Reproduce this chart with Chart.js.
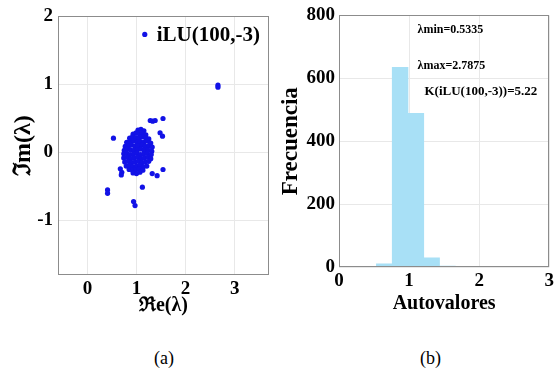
<!DOCTYPE html>
<html><head><meta charset="utf-8">
<script src="https://cdn.jsdelivr.net/npm/chart.js@4.4.1/dist/chart.umd.min.js"></script>
<style>
html,body{margin:0;padding:0;background:#fff;width:557px;height:372px;overflow:hidden;}
#ca{position:absolute;left:0;top:0;}
#cb{position:absolute;left:280px;top:0;}
.cap{position:absolute;top:347px;font:18px "Liberation Serif",serif;color:#000;line-height:22px;}
</style></head><body>
<canvas id="ca" width="280" height="320"></canvas>
<canvas id="cb" width="277" height="320"></canvas>
<div class="cap" style="left:154px">(a)</div>
<div class="cap" style="left:420px">(b)</div>
<script>
// ---------- Panel (a): eigenvalues in complex plane ----------
const legendLabel = 'iLU(100,-3)';
const reTicks = [0, 1, 2, 3];
const imTicks = [-1, 0, 1, 2];
const reRange = [-0.6, 3.7];
const imRange = [-1.8, 2];
// dense cluster of eigenvalues [Re, Im]
const clusterPoints = [
 [1.03,0.33],[1.09,0.34],[1.15,0.32],
 [0.93,0.27],[0.99,0.29],[1.05,0.28],[1.12,0.28],[1.19,0.26],
 [0.86,0.21],[0.92,0.23],[0.99,0.22],[1.05,0.21],[1.12,0.23],[1.19,0.21],[1.25,0.20],
 [0.80,0.15],[0.87,0.16],[0.94,0.17],[1.01,0.15],[1.08,0.16],[1.15,0.15],[1.22,0.17],[1.29,0.14],
 [0.77,0.09],[0.84,0.10],[0.90,0.11],[0.97,0.09],[1.04,0.10],[1.11,0.11],[1.18,0.09],[1.25,0.10],[1.32,0.08],
 [0.75,0.03],[0.81,0.05],[0.88,0.04],[0.95,0.03],[1.02,0.04],[1.09,0.05],[1.16,0.03],[1.23,0.04],[1.31,0.02],
 [0.74,-0.02],[0.80,-0.01],[0.87,-0.03],[0.94,-0.02],[1.01,-0.01],[1.08,-0.03],[1.15,-0.02],[1.22,-0.01],[1.30,-0.03],
 [0.74,-0.08],[0.81,-0.07],[0.88,-0.09],[0.95,-0.08],[1.02,-0.07],[1.09,-0.09],[1.16,-0.08],[1.23,-0.07],[1.29,-0.09],
 [0.76,-0.14],[0.83,-0.13],[0.90,-0.15],[0.97,-0.14],[1.04,-0.13],[1.11,-0.15],[1.18,-0.14],[1.25,-0.13],
 [0.79,-0.20],[0.86,-0.19],[0.93,-0.21],[1.00,-0.20],[1.07,-0.19],[1.14,-0.21],[1.21,-0.20],
 [0.85,-0.25],[0.92,-0.26],[0.99,-0.25],[1.06,-0.24],[1.13,-0.26],
 [0.93,-0.30],[1.00,-0.31],[1.07,-0.29]
];
// isolated eigenvalues [Re, Im]
const outlierPoints = [
 [2.66,0.99],[2.66,0.96],[0.53,0.21],[1.28,0.47],[1.33,0.46],[1.38,0.47],[1.54,0.50],
 [1.48,0.29],[1.53,0.24],[0.67,-0.24],[0.70,-0.29],[0.69,-0.33],[1.32,-0.31],[1.42,-0.34],
 [1.54,-0.25],[1.12,-0.51],[0.41,-0.55],[0.41,-0.60],[0.94,-0.72],[0.97,-0.78]
];

// ---------- Panel (b): histogram ----------
const binCenters = [0.646, 0.872, 1.097, 1.322, 1.548, 1.773, 1.999, 2.224, 2.449, 2.675];
const binCounts  = [10, 635, 489, 29, 3, 0, 0, 0, 0, 2];
const freqTicks = [0, 200, 400, 600, 800];
const valTicks = [0, 1, 2, 3];
const annotTexts = ['\u03bbmin=0.5335', '\u03bbmax=2.7875', 'K(iLU(100,-3))=5.22'];
const annotX = [1.12, 1.12, 1.22];
const annotY = [755, 638, 559];

const SERIF = '"Liberation Serif", "Times New Roman", serif';
const tickFont = {family: SERIF, size: 19, weight: 'bold'};
const titleFont = {family: SERIF, size: 20, weight: 'bold'};
const plainTick = v => String(v);

const framePlugin = {
  id: 'frame',
  afterDraw(chart) {
    const {ctx, chartArea: a} = chart;
    ctx.save();
    ctx.strokeStyle = '#8c8c8c';
    ctx.lineWidth = 1;
    ctx.strokeRect(Math.round(a.left) + 0.5, Math.round(a.top) + 0.5, Math.round(a.width) - 1, Math.round(a.height) - 1);
    ctx.restore();
  }
};

const legendPlugin = {
  id: 'inLegend',
  afterDraw(chart) {
    const {ctx, chartArea: a} = chart;
    const ds = chart.data.datasets[0];
    ctx.save();
    ctx.font = 'bold 21px ' + SERIF;
    ctx.textBaseline = 'middle';
    ctx.textAlign = 'right';
    const tx = a.right - 9, ty = a.top + 19;
    const w = ctx.measureText(ds.label).width;
    ctx.fillStyle = '#000';
    ctx.fillText(ds.label, tx, ty);
    ctx.fillStyle = ds.backgroundColor;
    ctx.beginPath();
    ctx.arc(tx - w - 12, ty - 1, 2.6, 0, Math.PI * 2);
    ctx.fill();
    ctx.restore();
  }
};

const annotPlugin = {
  id: 'annot',
  afterDraw(chart) {
    const {ctx} = chart;
    const xs = chart.scales.x, ys = chart.scales.y;
    ctx.save();
    ctx.fillStyle = '#000';
    ctx.textBaseline = 'middle';
    ctx.textAlign = 'left';
    annotTexts.forEach((t, i) => {
      ctx.font = 'bold ' + (i === 2 ? 13 : 12) + 'px ' + SERIF;
      ctx.fillText(t, xs.getPixelForValue(annotX[i]), ys.getPixelForValue(annotY[i]));
    });
    ctx.restore();
  }
};

const allPoints = clusterPoints.concat(outlierPoints);

new Chart(document.getElementById('ca'), {
  type: 'scatter',
  data: {datasets: [{
    label: legendLabel,
    data: allPoints.map(p => ({x: p[0], y: p[1]})),
    backgroundColor: '#1212e6', borderWidth: 0, pointRadius: 2.6, pointHoverRadius: 2.6
  }]},
  options: {
    responsive: false, animation: false, events: [],
    layout: {padding: {top: 15, right: 11, left: 0, bottom: 0}},
    plugins: {legend: {display: false}, tooltip: {enabled: false}},
    scales: {
      x: {
        type: 'linear', min: reRange[0], max: reRange[1],
        afterBuildTicks: s => { s.ticks = reTicks.map(v => ({value: v})); },
        afterFit: s => { s.height = 45; },
        grid: {color: '#e8e8e8', drawTicks: false}, border: {display: false},
        ticks: {padding: 3, color: '#000', font: tickFont, callback: plainTick},
        title: {display: true, text: '\u211ce(\u03bb)', color: '#000', font: titleFont, padding: {top: 0, bottom: 2}}
      },
      y: {
        type: 'linear', min: imRange[0], max: imRange[1],
        afterBuildTicks: s => { s.ticks = imTicks.map(v => ({value: v})); },
        afterFit: s => { s.width = 58; },
        grid: {color: '#e8e8e8', drawTicks: false}, border: {display: false},
        ticks: {padding: 5, color: '#000', font: tickFont, callback: plainTick},
        title: {display: true, text: '\u2111m(\u03bb)', color: '#000', font: {family: SERIF, size: 24, weight: 'bold', lineHeight: 1.2}, padding: {top: 9, bottom: 0}}
      }
    }
  },
  plugins: [framePlugin, legendPlugin]
});

new Chart(document.getElementById('cb'), {
  type: 'bar',
  data: {datasets: [{
    label: 'Frecuencia',
    data: binCenters.map((c, i) => ({x: c, y: binCounts[i]})),
    backgroundColor: '#a8e0f6', borderWidth: 0, barPercentage: 1, categoryPercentage: 1
  }]},
  options: {
    responsive: false, animation: false, events: [],
    layout: {padding: {top: 15, right: 7, left: 0, bottom: 0}},
    plugins: {legend: {display: false}, tooltip: {enabled: false}},
    scales: {
      x: {
        type: 'linear', min: 0, max: 3, offset: false,
        afterBuildTicks: s => { s.ticks = valTicks.map(v => ({value: v})); },
        afterFit: s => { s.height = 53; },
        grid: {color: '#e8e8e8', drawTicks: false, offset: false}, border: {display: false},
        ticks: {padding: 3, color: '#000', font: tickFont, callback: plainTick},
        title: {display: true, text: 'Autovalores', color: '#000', font: titleFont, padding: {top: 0, bottom: 4}}
      },
      y: {
        type: 'linear', min: 0, max: 800,
        afterBuildTicks: s => { s.ticks = freqTicks.map(v => ({value: v})); },
        afterFit: s => { s.width = 59; },
        grid: {color: '#e8e8e8', drawTicks: false}, border: {display: false},
        ticks: {padding: 4, color: '#000', font: tickFont, callback: plainTick},
        title: {display: true, text: 'Frecuencia', color: '#000', font: {family: SERIF, size: 23, weight: 'bold', lineHeight: 1}, padding: {top: 0, bottom: 0}}
      }
    }
  },
  plugins: [framePlugin, annotPlugin]
});
</script>
</body></html>
